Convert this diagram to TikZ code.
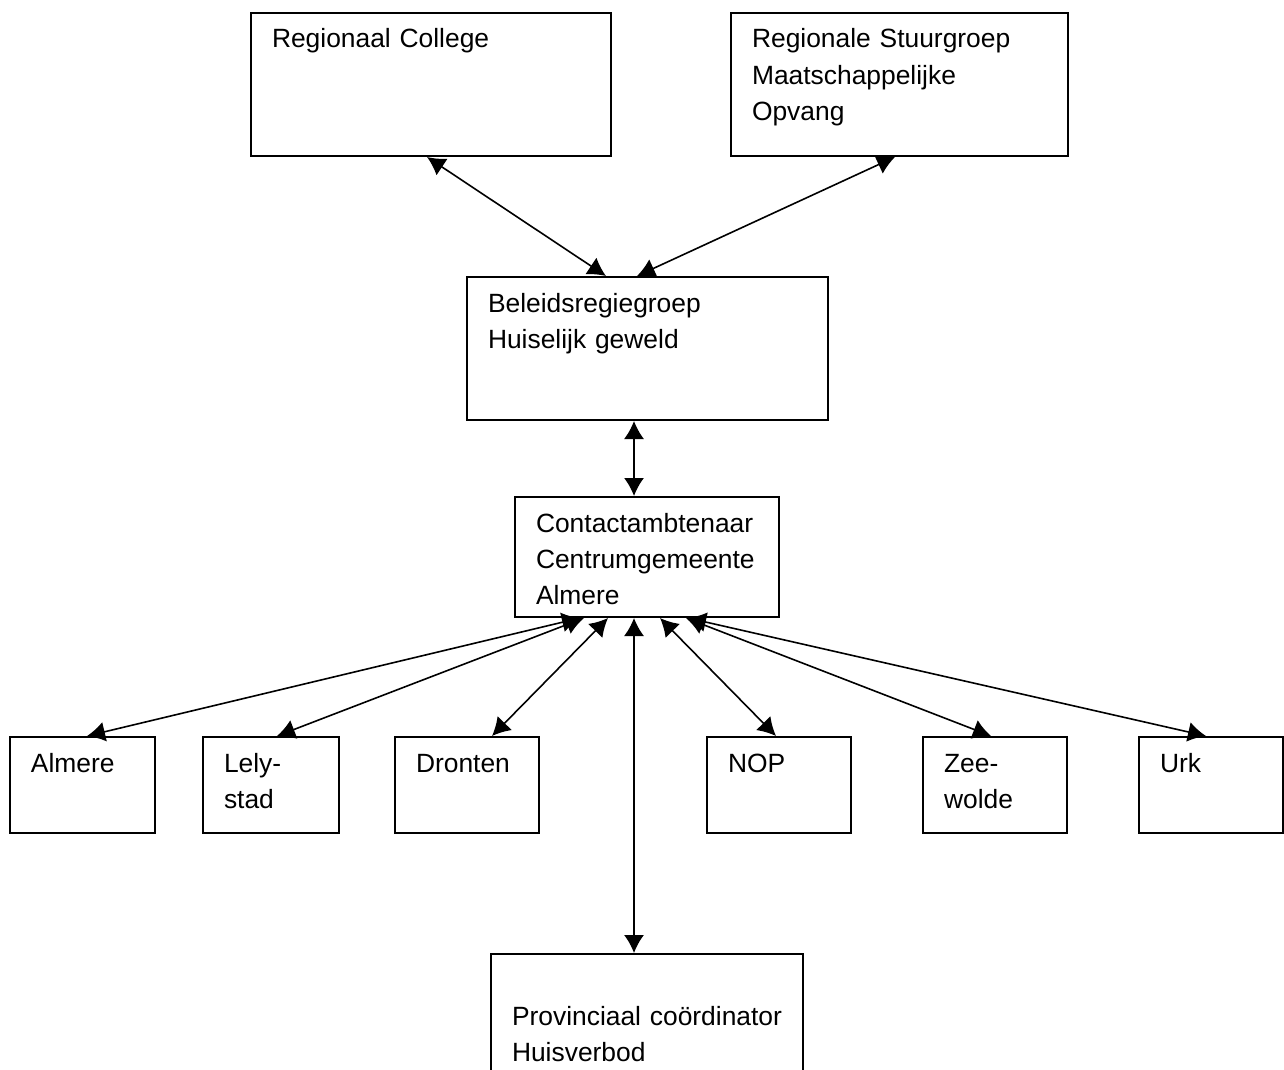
\documentclass[tikz,border=0pt]{standalone}
\usepackage{fontspec}
\setmainfont{Liberation Sans}
\usetikzlibrary{arrows.meta,calc}
\tikzset{
    box/.style={draw, rectangle, line width=1pt, anchor=north west, inner xsep=10.5pt, inner ysep=0pt,
        align=left, text height=17.5pt, font=\fontsize{13.2pt}{18pt}\selectfont},
    link/.style={{Latex[length=9pt, width=10pt]}-{Latex[length=9pt, width=10pt]}, line width=0.8pt}
}

\begin{document}
\begin{tikzpicture}[x=0.5pt, y=-0.5pt]
    \clip (0,0) rectangle (1284,1070);

    % Level 1
    \node[box, text width=159pt, text depth=54pt] (college) at (250,12) {Regionaal College};
    \node[box, text width=147.5pt, text depth=54pt] (stuurgroep) at (730,12) {Regionale Stuurgroep\\Maatschappelijke\\Opvang};

    % Level 2
    \node[box, text width=159.5pt, text depth=54pt] (beleid) at (466,276) {Beleidsregiegroep\\Huiselijk geweld};

    % Level 3
    \node[box, text width=111pt, text depth=42.5pt] (contact) at (514,496) {Contactambtenaar\\Centrumgemeente\\Almere};

    % Level 4 - municipalities
    \node[box, text width=51.5pt, text depth=30.5pt] (almere) at (9,736) {Almere};
    \node[box, text width=47pt, text depth=30.5pt] (lelystad) at (202,736) {Lely-\\stad};
    \node[box, text width=51pt, text depth=30.5pt] (dronten) at (394,736) {Dronten};
    \node[box, text width=51pt, text depth=30.5pt] (nop) at (706,736) {NOP};
    \node[box, text width=51pt, text depth=30.5pt] (zeewolde) at (922,736) {Zee-\\wolde};
    \node[box, text width=51pt, text depth=30.5pt] (urk) at (1138,736) {Urk};

    % Level 5
    \node[box, text width=135pt, text height=35.5pt, text depth=60pt] (provincie) at (490,953) {\mbox{Provinciaal coördinator}\\Huisverbod};

    % Arrows
    \draw[link] ($(college.south west)+(177,0)$) -- ($(beleid.north west)+(140,0)$);
    \draw[link] ($(stuurgroep.south west)+(165,0)$) -- ($(beleid.north west)+(171,0)$);
    \draw[link] ($(beleid.south west)+(168,0)$) -- ($(contact.north west)+(120,0)$);
    \draw[link] ($(contact.south west)+(66,0)$) -- ($(almere.north west)+(78,0)$);
    \draw[link] ($(contact.south west)+(70,0)$) -- ($(lelystad.north west)+(75,0)$);
    \draw[link] ($(contact.south west)+(94,0)$) -- ($(dronten.north west)+(98,0)$);
    \draw[link] ($(contact.south west)+(120,0)$) -- ($(provincie.north west)+(144,0)$);
    \draw[link] ($(contact.south west)+(146,0)$) -- ($(nop.north west)+(70,0)$);
    \draw[link] ($(contact.south west)+(172,0)$) -- ($(zeewolde.north west)+(69,0)$);
    \draw[link] ($(contact.south west)+(174,0)$) -- ($(urk.north west)+(68,0)$);

\end{tikzpicture}
\end{document}
